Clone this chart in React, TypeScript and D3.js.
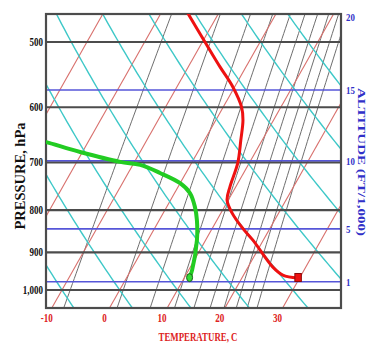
import React from "react";
import * as d3 from "d3";

const W = 367;
const H = 345;
const PLOT = { left: 46, right: 341, top: 14, bottom: 308 };
const SKEW = 0.566; // horizontal shift of isotherms per pixel of height

// Isobars (hPa) and their labels
const isobars = [500, 600, 700, 800, 900, 1000];
const isobarLabels = ["500", "600", "700", "800", "900", "1,000"];

// Isotherms every 10 °C, labelled along the bottom
const isotherms = [-40, -30, -20, -10, 0, 10, 20, 30, 40];
const tempTicks = [-10, 0, 10, 20, 30];

// Dry adiabats (potential temperature, °C)
const dryAdiabats = [-10, 0, 10, 20, 30, 40, 50, 60, 70];

// Saturation mixing ratio lines (g/kg)
const mixingRatios = [2, 4, 6, 8, 10, 12, 14, 16, 18, 20];

// Altitude marks (thousands of feet, standard atmosphere)
const altitudes = [1, 5, 10, 15, 20];

// Sounding: temperature profile
const tempP = [967, 959, 938, 870, 839, 806, 778, 750, 701, 658, 622, 600, 567, 536, 501, 461];
const tempT = [29.7, 26.8, 24.3, 18.2, 15.0, 11.9, 9.8, 9.0, 8.0, 6.3, 4.7, 3.2, -0.3, -4.5, -9.4, -15.4];

// Sounding: dew point profile
const dewP = [966, 946, 870, 822, 793, 763, 742, 721, 705, 699, 680, 661, 655];
const dewT = [10.9, 10.6, 8.5, 6.5, 4.9, 2.7, 0.0, -4.5, -8.7, -12.5, -20.4, -27.4, -30.0];

const y = d3.scaleLog().domain([1000, 500]).range([290, 42]);
const xT = d3.scaleLinear().domain([-10, 30]).range([51.8, 282.6]);
const pBottom = y.invert(PLOT.bottom);
const pTop = y.invert(PLOT.top);

const xOf = (t: number, p: number) => xT(t) + SKEW * (PLOT.bottom - y(p));

const pSamples = d3.range(0, 61).map((i) => pBottom * Math.pow(pTop / pBottom, i / 60));

const line = d3
  .line<[number, number]>()
  .x((d) => xOf(d[0], d[1]))
  .y((d) => y(d[1]));

const smooth = d3
  .line<[number, number]>()
  .x((d) => xOf(d[0], d[1]))
  .y((d) => y(d[1]))
  .curve(d3.curveCatmullRom.alpha(0.5));

const dryT = (thetaC: number, p: number) => (thetaC + 273.15) * Math.pow(p / 1000, 0.286) - 273.15;
const mixT = (w: number, p: number) => {
  const e = (w * p) / (622 + w);
  const l = Math.log(e / 6.112);
  return (243.5 * l) / (17.67 - l);
};
const altP = (kft: number) => 1013.25 * Math.pow(1 - 6.8756e-6 * kft * 1000, 5.2559);

const SERIF = "'Liberation Serif', 'DejaVu Serif', serif";

export default function App() {
  const tempPts = tempP.map((p, i) => [tempT[i], p] as [number, number]);
  const dewPts = dewP.map((p, i) => [dewT[i], p] as [number, number]);
  const labelY = 317;

  return (
    <svg width={W} height={H} style={{ display: "block", position: "absolute", left: 0, top: 0 }}>
      <rect x={0} y={0} width={W} height={H} fill="#fff" />
      <defs>
        <clipPath id="plot">
          <rect x={PLOT.left} y={PLOT.top} width={PLOT.right - PLOT.left} height={PLOT.bottom - PLOT.top} />
        </clipPath>
      </defs>

      <g clipPath="url(#plot)" fill="none">
        {mixingRatios.map((w) => (
          <path key={"w" + w} d={line(pSamples.map((p) => [mixT(w, p), p] as [number, number])) || ""} stroke="#6e6e6e" strokeWidth={1} />
        ))}
        {isotherms.map((t) => (
          <path key={"t" + t} d={line([[t, pBottom], [t, pTop]]) || ""} stroke="#d8706c" strokeWidth={1.1} />
        ))}
        {dryAdiabats.map((th) => (
          <path key={"a" + th} d={line(pSamples.map((p) => [dryT(th, p), p] as [number, number])) || ""} stroke="#3ec8c8" strokeWidth={1.4} />
        ))}
        {isobars.map((p) => (
          <line key={"p" + p} x1={PLOT.left} x2={PLOT.right} y1={y(p)} y2={y(p)} stroke="#4c4c4c" strokeWidth={2.2} />
        ))}
        {altitudes.map((a) => {
          const yy = y(altP(a));
          return yy > PLOT.top + 4 ? (
            <line key={"h" + a} x1={PLOT.left} x2={PLOT.right} y1={yy} y2={yy} stroke="#5656d8" strokeWidth={1.7} />
          ) : null;
        })}
      </g>

      <rect x={PLOT.left} y={PLOT.top} width={PLOT.right - PLOT.left} height={PLOT.bottom - PLOT.top} fill="none" stroke="#4c4c4c" strokeWidth={2.2} />

      <g clipPath="url(#plot)" fill="none">
        <path d={smooth(dewPts) || ""} stroke="#22cc22" strokeWidth={4} strokeLinecap="round" />
        <path d={smooth(tempPts) || ""} stroke="#ee1111" strokeWidth={3} strokeLinecap="round" />
      </g>
      <ellipse cx={xOf(dewT[0], dewP[0])} cy={y(dewP[0])} rx={3} ry={4} fill="#33dd33" stroke="#1d5a1d" strokeWidth={1} />
      <rect x={xOf(tempT[0], tempP[0]) - 3} y={y(tempP[0]) - 4.5} width={6.5} height={8} fill="#ee1111" stroke="#8a0a0a" strokeWidth={1} />

      {/* pressure labels */}
      {isobars.map((p, i) => (
        <text key={"pl" + p} transform={`translate(43,${y(p) + 4}) scale(0.75,1)`} textAnchor="end" fontFamily={SERIF} fontWeight="bold" fontSize={12} fill="#111">
          {isobarLabels[i]}
        </text>
      ))}
      <text transform={`translate(25,176) rotate(-90)`} textAnchor="middle" fontFamily={SERIF} fontWeight="bold" fontSize={14} fill="#111" textLength={107} lengthAdjust="spacingAndGlyphs">
        PRESSURE, hPa
      </text>

      {/* temperature labels */}
      {tempTicks.map((t) => (
        <text key={"tl" + t} transform={`translate(${xT(t) + SKEW * (PLOT.bottom - labelY)},${labelY + 5}) scale(0.7,1)`} textAnchor="middle" fontFamily={SERIF} fontWeight="bold" fontSize={13} fill="#dd2222">
          {t}
        </text>
      ))}
      <text x={198} y={341} textAnchor="middle" fontFamily={SERIF} fontWeight="bold" fontSize={12} fill="#dd2222" textLength={79} lengthAdjust="spacingAndGlyphs">
        TEMPERATURE, C
      </text>

      {/* altitude labels */}
      {altitudes.map((a) => (
        <text key={"al" + a} transform={`translate(346,${Math.max(y(altP(a)), PLOT.top) + 4}) scale(0.8,1)`} fontFamily={SERIF} fontWeight="bold" fontSize={11} fill="#3030c8">
          {a}
        </text>
      ))}
      <text transform={`translate(357.5,162) rotate(90)`} textAnchor="middle" fontFamily={SERIF} fontWeight="bold" fontSize={11} fill="#3030c8" textLength={148} lengthAdjust="spacingAndGlyphs">
        ALTITUDE (FT/1,000)
      </text>
    </svg>
  );
}
